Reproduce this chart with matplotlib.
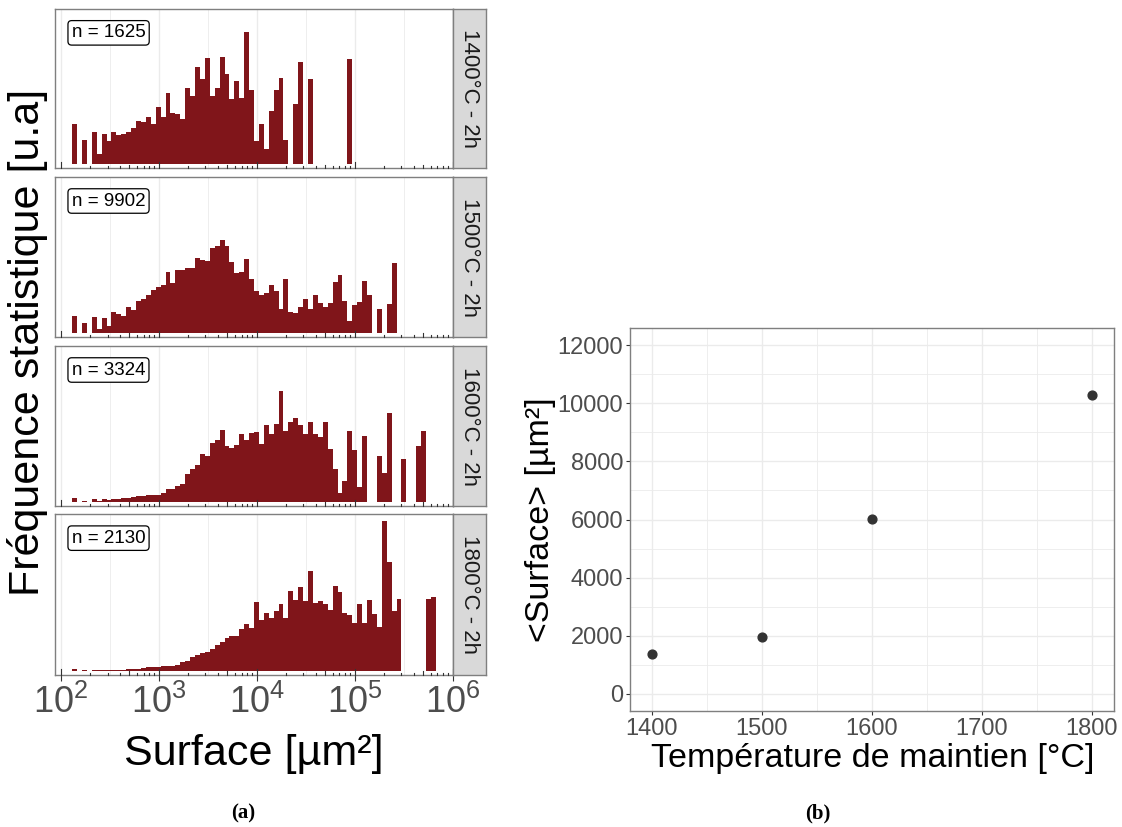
import numpy as np
import matplotlib.pyplot as plt

plt.rcParams['font.family'] = ['Liberation Sans', 'DejaVu Sans']
plt.rcParams['mathtext.fontset'] = 'custom'
plt.rcParams['mathtext.rm'] = 'Liberation Sans'

W, H = 1122, 827

# histogram bins, log10 of surface
log_start = 2.115
bin_w = 0.0502

conditions = ["1400°C - 2h", "1500°C - 2h", "1600°C - 2h", "1800°C - 2h"]
n_grains = [1625, 9902, 3324, 2130]

counts_1400 = [121, 0, 71, 0, 95, 31, 89, 69, 95, 87, 89, 97, 109, 129, 127, 141,
               121, 170, 140, 214, 153, 149, 135, 228, 203, 290, 254, 318, 203, 228,
               321, 271, 196, 248, 199, 396, 222, 68, 120, 45, 158, 222, 257, 71, 0,
               179, 307, 0, 255, 0, 0, 0, 0, 0, 0, 0, 315]
counts_1500 = [50, 0, 30, 0, 47, 13, 44, 21, 62, 57, 51, 77, 69, 94, 100, 113, 129,
               138, 144, 181, 149, 187, 187, 195, 195, 225, 219, 215, 254, 259, 277,
               259, 212, 178, 181, 220, 162, 124, 113, 118, 144, 126, 72, 162, 63, 60,
               78, 101, 72, 113, 89, 78, 89, 153, 173, 95, 37, 83, 92, 156, 113, 0, 72,
               0, 86, 208]
counts_1600 = [11, 0, 4, 0, 8, 4, 8, 6, 10, 9, 12, 12, 14, 17, 18, 20, 20, 22, 26, 40,
               40, 48, 54, 82, 97, 111, 142, 137, 177, 185, 214, 167, 160, 171, 202,
               185, 205, 208, 174, 229, 203, 234, 330, 211, 240, 249, 230, 202, 240,
               202, 194, 238, 159, 97, 28, 64, 211, 155, 46, 196, 0, 0, 136, 85, 264,
               0, 0, 127, 0, 0, 168, 211]
counts_1800 = [6, 0, 4, 0, 3, 3, 4, 4, 4, 4, 4, 7, 7, 7, 9, 13, 13, 13, 16, 16, 16, 19,
               27, 31, 41, 48, 52, 57, 64, 76, 86, 98, 103, 103, 124, 138, 126, 205,
               150, 173, 158, 178, 199, 158, 236, 210, 248, 208, 297, 202, 207, 199,
               181, 251, 234, 173, 165, 143, 199, 141, 210, 170, 129, 443, 324, 179,
               213, 0, 0, 0, 0, 0, 213, 219]
all_counts = [counts_1400, counts_1500, counts_1600, counts_1800]

# mean surface vs holding temperature
temperatures = [1400, 1500, 1600, 1800]
mean_surface = [1360, 1960, 6020, 10290]

bar_col = '#80151a'
grid_col = '#EBEBEB'
border_col = '#7f7f7f'
tick_txt = '#4D4D4D'


def px_axes(fig, l, t, r, b):
    return fig.add_axes([l / W, 1 - b / H, (r - l) / W, (b - t) / H])


fig = plt.figure(figsize=(W / 100, H / 100), dpi=100)

tops = [9, 177, 346, 514]
bottoms = [168, 337, 506, 675]
ymax = max(max(c) for c in all_counts)

for i, counts in enumerate(all_counts):
    ax = px_axes(fig, 55, tops[i], 453, bottoms[i])
    counts = np.array(counts, dtype=float)
    edges = 10 ** (log_start + bin_w * np.arange(len(counts) + 1))
    ax.bar(edges[:-1], counts, width=np.diff(edges), align='edge',
           color=bar_col, edgecolor='none', zorder=2)
    ax.set_xscale('log')
    ax.set_xlim(10 ** 1.94, 10 ** 6.005)
    ax.set_ylim(-0.027 * ymax, 1.05 * ymax)
    ax.set_yticks([])

    # grid: decades and half decades
    for d in range(2, 7):
        ax.axvline(10 ** d, color=grid_col, lw=1.0, zorder=0)
        if d < 6:
            ax.axvline(10 ** (d + 0.5), color=grid_col, lw=0.6, zorder=0)

    # log ticks inside the panel
    tr = ax.get_xaxis_transform()
    for d in range(2, 7):
        for m in range(1, 10):
            if d == 6 and m > 1:
                break
            L = 0.035 if m == 1 else (0.022 if m == 5 else 0.012)
            ax.plot([m * 10 ** d] * 2, [0, L], transform=tr, color='#333333',
                    lw=0.8, zorder=3, clip_on=False)

    ax.set_xticks([10 ** d for d in range(2, 7)])
    ax.minorticks_off()
    if i == 3:
        ax.set_xticklabels([r'$10^{%d}$' % d for d in range(2, 7)],
                           fontsize=26, color=tick_txt)
        ax.tick_params(axis='x', length=4, color='#333333', pad=3)
    else:
        ax.set_xticklabels([])
        ax.tick_params(axis='x', length=0)
    for s in ax.spines.values():
        s.set_color(border_col)
        s.set_linewidth(1.0)

    ax.text(0.042, 0.85, "n = %d" % n_grains[i], transform=ax.transAxes,
            fontsize=13.5, ha='left', va='center', color='black',
            bbox=dict(boxstyle='round,pad=0.2,rounding_size=0.2', fc='white',
                      ec='black', lw=0.9))

    # facet strip
    sx = px_axes(fig, 453, tops[i], 486, bottoms[i])
    sx.set_facecolor('#D9D9D9')
    sx.set_xticks([])
    sx.set_yticks([])
    for s in sx.spines.values():
        s.set_color(border_col)
        s.set_linewidth(1.0)
    sx.text(0.5, 0.5, conditions[i], rotation=-90, ha='center', va='center',
            fontsize=16, color='#1A1A1A', transform=sx.transAxes)

fig.text(28 / W, 1 - 342 / H, "Fréquence statistique [u.a]", rotation=90,
         ha='center', va='center', fontsize=31, color='black')
fig.text(254 / W, 1 - 754 / H, "Surface [µm²]", ha='center', va='center',
         fontsize=31, color='black')

# right plot
bx = px_axes(fig, 630, 328, 1114, 711)
bx.scatter(temperatures, mean_surface, s=40, color='#333333', zorder=3)
bx.set_xlim(1380, 1820)
bx.set_ylim(-600, 12600)
bx.set_xticks([1400, 1500, 1600, 1700, 1800])
bx.set_xticks([1450, 1550, 1650, 1750], minor=True)
bx.set_yticks(range(0, 12001, 2000))
bx.set_yticks(range(1000, 12000, 2000), minor=True)
bx.grid(True, which='major', color=grid_col, lw=1.0, zorder=0)
bx.grid(True, which='minor', color=grid_col, lw=0.6, zorder=0)
bx.set_axisbelow(True)
bx.tick_params(which='major', length=3, color='#333333', labelsize=17,
               labelcolor=tick_txt, pad=2)
bx.tick_params(which='minor', length=0)
for s in bx.spines.values():
    s.set_color(border_col)
    s.set_linewidth(1.0)

fig.text(873 / W, 1 - 758 / H, "Température de maintien [°C]", ha='center',
         va='center', fontsize=24.5, color='black')
fig.text(540 / W, 1 - 520 / H, "<Surface> [µm²]", rotation=90, ha='center',
         va='center', fontsize=24.5, color='black')

fig.text(243 / W, 1 - 813 / H, "(a)", ha='center', va='center', fontsize=15,
         fontweight='bold', family='Liberation Serif')
fig.text(818 / W, 1 - 813 / H, "(b)", ha='center', va='center', fontsize=15,
         fontweight='bold', family='Liberation Serif')

fig.savefig("out.png", dpi=100)
